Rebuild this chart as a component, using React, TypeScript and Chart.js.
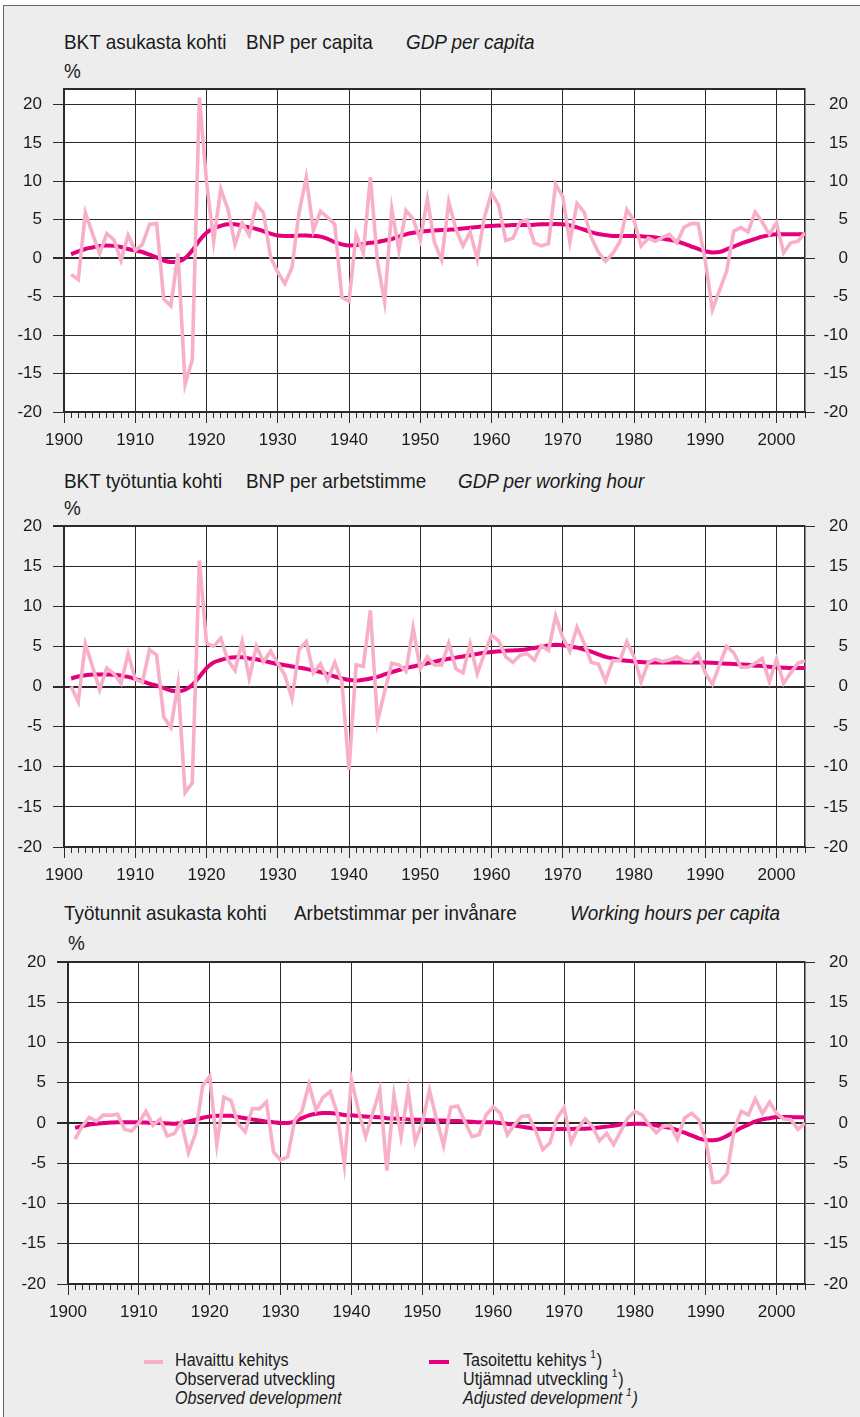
import React, { useEffect, useRef } from "react";
import { Chart, registerables } from "chart.js";

Chart.register(...registerables);

// ---------- data ----------
const FIRST_YEAR = 1901;
const YEAR_COUNT = 104;
const years: number[] = Array.from({ length: YEAR_COUNT }, (_, i) => FIRST_YEAR + i);

const xTickYears = [1900, 1910, 1920, 1930, 1940, 1950, 1960, 1970, 1980, 1990, 2000];
const yTickValues = [-20, -15, -10, -5, 0, 5, 10, 15, 20];

// GDP per capita, observed (1901-2004)
const gdpCapObs = [
  -2.1, -2.8, 5.9, 3.2, 0.6, 3.2, 2.4, -0.3, 3.0, 1.0,
  1.8, 4.4, 4.5, -5.3, -6.2, 0.6, -16.4, -13.2, 20.9, 10.0,
  2.2, 9.0, 6.4, 1.8, 4.6, 3.0, 7.0, 5.9, 0.1, -1.8,
  -3.3, -1.2, 6.0, 10.5, 3.6, 6.1, 5.3, 4.4, -5.1, -5.6,
  3.1, 0.7, 10.5, -0.5, -5.7, 6.4, 1.0, 6.2, 5.1, 2.4,
  7.7, 2.0, -0.2, 7.3, 3.8, 1.6, 3.4, -0.1, 5.3, 8.5,
  6.9, 2.3, 2.6, 4.7, 5.0, 2.0, 1.6, 1.9, 9.6, 8.0,
  2.1, 7.1, 6.0, 2.7, 0.8, -0.4, 0.6, 2.1, 6.3, 4.9,
  1.6, 2.6, 2.2, 2.7, 3.1, 2.0, 4.0, 4.5, 4.5, -0.3,
  -6.7, -4.2, -1.7, 3.5, 4.0, 3.4, 6.0, 4.7, 3.1, 4.6,
  0.7, 2.0, 2.2, 3.3,
];
// GDP per capita, adjusted trend
const gdpCapAdj = [
  0.5, 0.9, 1.2, 1.4, 1.6, 1.65, 1.6, 1.45, 1.2, 1.0,
  0.8, 0.45, 0.1, -0.3, -0.5, -0.45, 0.0, 1.0, 2.3, 3.3,
  3.9, 4.2, 4.4, 4.4, 4.2, 4.0, 3.8, 3.5, 3.2, 2.95,
  2.9, 2.9, 2.95, 2.95, 2.9, 2.8, 2.5, 2.1, 1.8, 1.65,
  1.7, 1.85, 2.0, 2.1, 2.3, 2.5, 2.8, 3.1, 3.3, 3.45,
  3.55, 3.6, 3.65, 3.7, 3.75, 3.85, 3.95, 4.05, 4.15, 4.2,
  4.25, 4.25, 4.3, 4.3, 4.3, 4.35, 4.4, 4.4, 4.45, 4.4,
  4.25, 4.0, 3.7, 3.4, 3.15, 3.0, 2.9, 2.9, 2.9, 2.9,
  2.85, 2.8, 2.7, 2.55, 2.4, 2.2, 1.9, 1.55, 1.2, 0.9,
  0.75, 0.8, 1.15, 1.5, 1.9, 2.2, 2.5, 2.8, 3.0, 3.1,
  3.1, 3.1, 3.1, 3.1,
];

// GDP per working hour, observed
const gdpHourObs = [
  0.0, -1.9, 5.3, 2.5, -0.4, 2.3, 1.6, 0.4, 4.1, 0.9,
  0.5, 4.6, 3.9, -3.8, -5.1, 0.3, -13.2, -12.0, 15.7, 5.4,
  5.0, 6.0, 3.3, 2.0, 5.6, 1.0, 5.0, 3.1, 4.4, 2.9,
  1.4, -1.5, 4.6, 5.6, 1.7, 2.8, 0.8, 3.0, 0.6, -10.4,
  2.7, 2.5, 9.5, -4.4, -0.6, 2.9, 2.7, 1.9, 7.3, 2.2,
  3.7, 2.7, 2.7, 5.4, 2.2, 1.7, 5.3, 1.6, 4.1, 6.4,
  5.7, 3.7, 3.0, 3.9, 4.1, 3.3, 5.1, 4.5, 8.8, 6.1,
  4.4, 7.4, 5.4, 3.0, 2.8, 0.7, 3.2, 3.2, 5.6, 3.7,
  0.6, 3.0, 3.4, 3.1, 3.3, 3.7, 3.2, 3.1, 4.1, 1.7,
  0.3, 2.7, 5.0, 4.2, 2.4, 2.4, 2.9, 3.5, 0.6, 3.4,
  0.4, 1.7, 2.9, 3.2,
];
// GDP per working hour, adjusted trend
const gdpHourAdj = [
  1.0, 1.25, 1.4, 1.5, 1.5, 1.5, 1.45, 1.35, 1.2, 0.95,
  0.65, 0.35, 0.1, -0.2, -0.5, -0.6, -0.4, 0.2, 1.2, 2.3,
  3.0, 3.3, 3.55, 3.65, 3.65, 3.5, 3.4, 3.2, 3.0, 2.8,
  2.65, 2.5, 2.35, 2.2, 2.0, 1.8, 1.55, 1.25, 1.0, 0.8,
  0.75, 0.85, 1.0, 1.2, 1.5, 1.8, 2.05, 2.3, 2.5, 2.7,
  2.9, 3.1, 3.3, 3.45, 3.6, 3.75, 3.9, 4.05, 4.2, 4.3,
  4.4, 4.45, 4.5, 4.55, 4.65, 4.8, 4.95, 5.1, 5.2, 5.15,
  5.0, 4.85, 4.6, 4.35, 4.0, 3.7, 3.5, 3.3, 3.2, 3.1,
  3.05, 3.0, 3.0, 3.0, 3.0, 3.0, 3.0, 3.0, 3.0, 3.0,
  2.95, 2.9, 2.85, 2.8, 2.75, 2.7, 2.6, 2.55, 2.45, 2.4,
  2.35, 2.3, 2.3, 2.3,
];

// Working hours per capita, observed
const hoursObs = [
  -2.0, -0.4, 0.7, 0.2, 1.0, 0.95, 1.1, -0.8, -1.0, 0.0,
  1.45, -0.3, 0.5, -1.6, -1.3, 0.1, -3.7, -1.3, 4.6, 5.8,
  -2.7, 3.2, 2.8, -0.1, -1.1, 1.8, 1.75, 2.6, -3.6, -4.6,
  -4.2, 0.4, 1.45, 4.8, 1.6, 3.2, 3.9, 1.2, -5.2, 5.4,
  1.5, -1.7, 1.2, 4.1, -5.9, 3.5, -1.7, 4.1, -2.3, 0.0,
  4.1, 0.5, -2.8, 1.95, 2.1, 0.2, -1.7, -1.45, 1.0, 2.0,
  1.2, -1.45, -0.2, 0.8, 0.9, -1.0, -3.3, -2.5, 0.6, 1.9,
  -2.4, -0.6, 0.5, -0.4, -2.2, -1.3, -2.7, -1.0, 0.6, 1.45,
  1.0, -0.2, -1.2, -0.4, -0.3, -2.0, 0.6, 1.2, 0.4, -2.1,
  -7.4, -7.3, -6.3, -0.8, 1.45, 1.0, 3.0, 1.2, 2.6, 1.2,
  0.5, 0.4, -0.8, 0.0,
];
// Working hours per capita, adjusted trend
const hoursAdj = [
  -0.6, -0.4, -0.2, -0.1, 0.0, 0.05, 0.1, 0.1, 0.1, 0.1,
  0.05, 0.0, 0.0, -0.05, -0.1, 0.0, 0.2, 0.4, 0.65, 0.8,
  0.9, 0.9, 0.9, 0.75, 0.6, 0.45, 0.3, 0.2, 0.1, 0.0,
  0.0, 0.2, 0.6, 0.95, 1.15, 1.25, 1.25, 1.15, 1.0, 0.95,
  0.9, 0.8, 0.75, 0.7, 0.6, 0.55, 0.5, 0.45, 0.4, 0.4,
  0.35, 0.3, 0.3, 0.25, 0.25, 0.2, 0.15, 0.1, 0.1, 0.1,
  0.0, -0.1, -0.3, -0.45, -0.6, -0.7, -0.75, -0.75, -0.75, -0.75,
  -0.75, -0.7, -0.7, -0.65, -0.55, -0.45, -0.35, -0.2, -0.15, -0.1,
  -0.1, -0.2, -0.3, -0.45, -0.6, -0.9, -1.2, -1.55, -1.9, -2.1,
  -2.15, -2.0, -1.6, -1.1, -0.6, -0.2, 0.2, 0.45, 0.6, 0.75,
  0.75, 0.75, 0.7, 0.7,
];

// ---------- styles ----------
const FONT = '"Liberation Sans", Arial, sans-serif';
const OBS_COLOR = "#f8afc9";
const ADJ_COLOR = "#e4007c";
const GRID = "#2a2a2a";
const TEXT = "#1a1a1a";
const X_MIN = 1900;
const X_MAX = 2004;
const PAD_TOP = 24;
const X_AXIS_H = 40;

const bgPlugin = {
  id: "plotBg",
  beforeDraw(chart: any) {
    const { ctx, chartArea } = chart;
    if (!chartArea) return;
    ctx.save();
    ctx.fillStyle = "#ffffff";
    ctx.fillRect(chartArea.left, chartArea.top, chartArea.right - chartArea.left, chartArea.bottom - chartArea.top);
    ctx.restore();
  },
};

type PanelProps = {
  areaTop: number;
  areaBottom: number;
  leftWidth: number;
  yMax: number;
  obs: number[];
  adj: number[];
};

function Panel({ areaTop, areaBottom, leftWidth, yMax, obs, adj }: PanelProps) {
  const ref = useRef<HTMLCanvasElement | null>(null);
  const top = areaTop - PAD_TOP;
  const height = areaBottom - top + X_AXIS_H;
  useEffect(() => {
    if (!ref.current) return;
    const yTickSet = yMax === 20 ? yTickValues : [...yTickValues, yMax];
    const yTicksBuild = (s: any) => {
      s.ticks = yTickSet.map((v) => ({ value: v }));
    };
    const yLabel = (v: any) => (yTickValues.includes(Number(v)) ? String(v) : "");
    const tickCol = (c: any) => (c.tick && yTickValues.includes(c.tick.value) ? GRID : "rgba(0,0,0,0)");
    const tickFont = { family: FONT, size: 17 };
    const chart = new Chart(ref.current, {
      type: "line",
      data: {
        datasets: [
          {
            label: "obs",
            data: years.map((y, i) => ({ x: y, y: obs[i] })),
            borderColor: OBS_COLOR,
            borderWidth: 3.6,
            pointRadius: 0,
            tension: 0,
            borderJoinStyle: "miter",
            xAxisID: "x",
            yAxisID: "y",
          },
          {
            label: "adj",
            data: years.map((y, i) => ({ x: y, y: adj[i] })),
            borderColor: ADJ_COLOR,
            borderWidth: 4,
            pointRadius: 0,
            cubicInterpolationMode: "monotone",
            xAxisID: "x",
            yAxisID: "y",
          },
        ],
      },
      options: {
        animation: false,
        responsive: false,
        maintainAspectRatio: false,
        events: [],
        layout: { padding: { top: PAD_TOP, right: 12, bottom: 0, left: 0 } },
        plugins: { legend: { display: false }, tooltip: { enabled: false } },
        scales: {
          xMinor: {
            type: "linear",
            position: "bottom",
            min: X_MIN,
            max: X_MAX,
            weight: 0,
            ticks: { display: false, stepSize: 1, autoSkip: false },
            grid: { drawOnChartArea: false, tickLength: 6, color: GRID, tickColor: GRID, lineWidth: 1 },
            border: { display: false },
            afterFit: (s: any) => {
              s.height = 0;
            },
          },
          x: {
            type: "linear",
            position: "bottom",
            min: X_MIN,
            max: X_MAX,
            weight: 1,
            afterBuildTicks: (s: any) => {
              s.ticks = xTickYears.map((v) => ({ value: v }));
            },
            ticks: {
              stepSize: 10,
              autoSkip: false,
              maxRotation: 0,
              minRotation: 0,
              padding: 7,
              color: TEXT,
              font: tickFont,
              callback: (v: any) => String(v),
            },
            grid: { color: GRID, lineWidth: 1, tickLength: 11, tickColor: GRID },
            border: { display: true, color: GRID, width: 1.5 },
            afterFit: (s: any) => {
              s.height = X_AXIS_H;
            },
          },
          y: {
            type: "linear",
            position: "left",
            min: -20,
            max: yMax,
            afterBuildTicks: yTicksBuild,
            ticks: {
              stepSize: 5,
              autoSkip: false,
              padding: 11,
              color: TEXT,
              font: tickFont,
              callback: yLabel,
            },
            grid: {
              color: GRID,
              tickColor: tickCol,
              tickLength: 11,
              lineWidth: (c: any) => (c.tick && (c.tick.value === 0 || c.tick.value === yMax) ? 2 : 1),
            },
            border: { display: true, color: GRID, width: 2 },
            afterFit: (s: any) => {
              s.width = leftWidth;
            },
          },
          yRight: {
            type: "linear",
            position: "right",
            min: -20,
            max: yMax,
            afterBuildTicks: yTicksBuild,
            ticks: {
              stepSize: 5,
              autoSkip: false,
              crossAlign: "far",
              color: TEXT,
              font: tickFont,
              callback: yLabel,
            },
            grid: { drawOnChartArea: false, tickColor: tickCol, tickLength: 10, color: GRID },
            border: { display: true, color: GRID, width: 1.5 },
            afterFit: (s: any) => {
              s.width = 43;
            },
          },
        },
      } as any,
      plugins: [bgPlugin],
    });
    return () => chart.destroy();
  }, []);
  return (
    <canvas
      ref={ref}
      width={860}
      height={height}
      style={{ position: "absolute", left: 0, top, width: 860, height }}
    />
  );
}

function Txt({
  x,
  base,
  size,
  sx = 1,
  italic,
  children,
}: {
  x: number;
  base: number;
  size: number;
  sx?: number;
  italic?: boolean;
  children: React.ReactNode;
}) {
  return (
    <div
      style={{
        position: "absolute",
        left: x,
        top: base - 0.8465 * size,
        fontSize: size,
        lineHeight: `${size}px`,
        fontStyle: italic ? "italic" : "normal",
        whiteSpace: "nowrap",
        color: TEXT,
        fontFamily: FONT,
        transform: `scaleX(${sx})`,
        transformOrigin: "left top",
      }}
    >
      {children}
    </div>
  );
}

const T_SIZE = 21;
const T_SX = 0.9;
const L_SIZE = 17.5;
const L_SX = 0.92;
const supStyle: React.CSSProperties = { fontSize: 11, position: "relative", top: -8, marginLeft: 4, marginRight: 1 };

export default function App() {
  return (
    <div
      style={{
        position: "absolute",
        left: 0,
        top: 0,
        width: 860,
        height: 1417,
        overflow: "hidden",
        background: "#ffffff",
        fontFamily: FONT,
      }}
    >
      <div
        style={{
          position: "absolute",
          left: 3,
          top: 5,
          width: 870,
          height: 1430,
          background: "#ededed",
          borderLeft: "1.5px solid #666",
          borderTop: "1.5px solid #666",
        }}
      />
      {/* Panel 1 */}
      <Txt x={64} base={49} size={T_SIZE} sx={T_SX}>BKT asukasta kohti</Txt>
      <Txt x={246} base={49} size={T_SIZE} sx={T_SX}>BNP per capita</Txt>
      <Txt x={406} base={49} size={T_SIZE} sx={T_SX} italic>GDP per capita</Txt>
      <Txt x={64} base={78} size={T_SIZE} sx={T_SX}>%</Txt>
      <Panel areaTop={89} areaBottom={412} leftWidth={64} yMax={22} obs={gdpCapObs} adj={gdpCapAdj} />

      {/* Panel 2 */}
      <Txt x={64} base={488} size={T_SIZE} sx={T_SX}>BKT työtuntia kohti</Txt>
      <Txt x={246} base={488} size={T_SIZE} sx={T_SX}>BNP per arbetstimme</Txt>
      <Txt x={458} base={488} size={T_SIZE} sx={T_SX} italic>GDP per working hour</Txt>
      <Txt x={64} base={515} size={T_SIZE} sx={T_SX}>%</Txt>
      <Panel areaTop={526} areaBottom={847} leftWidth={64} yMax={20} obs={gdpHourObs} adj={gdpHourAdj} />

      {/* Panel 3 */}
      <Txt x={64} base={920} size={T_SIZE} sx={T_SX}>Työtunnit asukasta kohti</Txt>
      <Txt x={294} base={920} size={T_SIZE} sx={T_SX}>Arbetstimmar per invånare</Txt>
      <Txt x={570} base={920} size={T_SIZE} sx={T_SX} italic>Working hours per capita</Txt>
      <Txt x={68} base={950} size={T_SIZE} sx={T_SX}>%</Txt>
      <Panel areaTop={962} areaBottom={1284} leftWidth={68} yMax={20} obs={hoursObs} adj={hoursAdj} />

      {/* Legend */}
      <div style={{ position: "absolute", left: 144, top: 1360, width: 19, height: 4, background: OBS_COLOR }} />
      <Txt x={175} base={1367} size={L_SIZE} sx={L_SX}>Havaittu kehitys</Txt>
      <Txt x={175} base={1386} size={L_SIZE} sx={L_SX}>Observerad utveckling</Txt>
      <Txt x={175} base={1405} size={L_SIZE} sx={L_SX} italic>Observed development</Txt>

      <div style={{ position: "absolute", left: 429, top: 1360, width: 20, height: 4, background: ADJ_COLOR }} />
      <Txt x={463} base={1367} size={L_SIZE} sx={L_SX}>
        Tasoitettu kehitys<span style={supStyle}>1</span>)
      </Txt>
      <Txt x={463} base={1386} size={L_SIZE} sx={L_SX}>
        Utjämnad utveckling<span style={supStyle}>1</span>)
      </Txt>
      <Txt x={463} base={1405} size={L_SIZE} sx={L_SX} italic>
        Adjusted development<span style={supStyle}>1</span>)
      </Txt>
    </div>
  );
}
